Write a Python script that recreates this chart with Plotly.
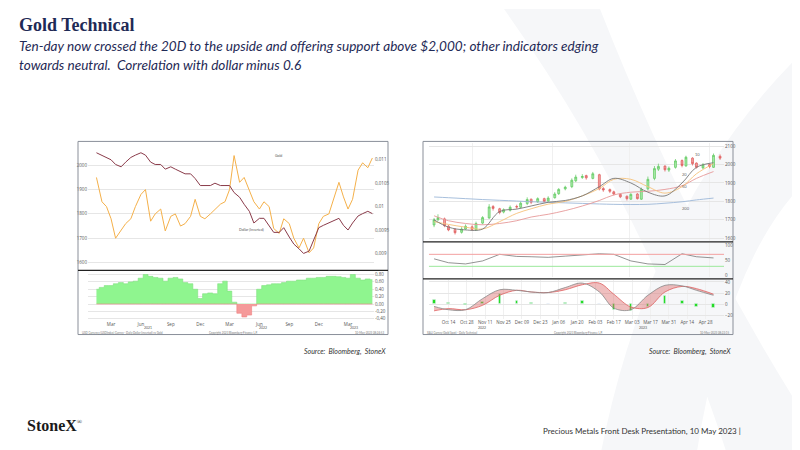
import pandas as pd
import plotly.graph_objects as go

# ---------------- left chart: gold vs dollar (inverted), correlation ----------------
gold_semi = [1950, 1850, 1830, 1780, 1700, 1735, 1760, 1780, 1830, 1880, 1900, 1770,
             1800, 1820, 1730, 1790, 1800, 1750, 1760, 1790, 1860, 1790, 1780, 1800,
             1820, 1840, 1850, 1900, 2040, 1930, 1950, 1900, 1850, 1820, 1850, 1830,
             1740, 1720, 1780, 1760, 1700, 1660, 1700, 1640, 1660, 1760, 1790, 1800,
             1860, 1930, 1870, 1820, 1860, 1980, 2010, 1990, 2030]
dollar_inv = [.01115, .01110, .01105, .01100, .01090, .01085, .01095, .01105, .01110, .01115,
              .01110, .01095, .01090, .01090, .01080, .01085, .01080, .01075, .01070, .01070,
              .01060, .01045, .01045, .01045, .01050, .01045, .01045, .01045, .01030, .01020,
              .01005, .00990, .00965, .00975, .00975, .00960, .00945, .00945, .00955, .00935,
              .00920, .00910, .00900, .00905, .00930, .00955, .00960, .00965, .00970, .00975,
              .00960, .00950, .00965, .00980, .00985, .00990, .00985]
corr = [0.40, 0.45, 0.50, 0.50, 0.55, 0.58, 0.55, 0.60, 0.62, 0.70, 0.80, 0.75,
        0.72, 0.70, 0.62, 0.70, 0.72, 0.68, 0.58, 0.55, 0.40, 0.15, 0.28, 0.30,
        0.28, 0.55, 0.62, 0.35, 0.05, -0.25, -0.35, -0.30, -0.05, 0.40, 0.50, 0.52,
        0.55, 0.55, 0.58, 0.62, 0.62, 0.65, 0.65, 0.70, 0.70, 0.72, 0.72, 0.75,
        0.75, 0.74, 0.72, 0.70, 0.80, 0.70, 0.65, 0.68, 0.66]
left_dates = pd.date_range("2021-01-04", periods=len(gold_semi), freq="SMS")
left_ticks = ["2021-03-01", "2021-06-01", "2021-09-01", "2021-12-01", "2022-03-01",
              "2022-06-01", "2022-09-01", "2022-12-01", "2023-03-01"]
left_ticktext = ["Mar", "Jun", "Sep", "Dec", "Mar", "Jun", "Sep", "Dec", "Mar"]

# ---------------- right chart: gold candles, MAs, RSI, MACD ----------------
c_close = [1700, 1712, 1668, 1645, 1630, 1650, 1665, 1648, 1680, 1712, 1770, 1762, 1740, 1755,
           1768, 1770, 1790, 1810, 1795, 1815, 1800, 1818, 1840, 1865, 1877, 1915, 1932, 1935,
           1928, 1950, 1868, 1862, 1855, 1840, 1825, 1815, 1838, 1815, 1865, 1920, 1978, 1990,
           1972, 1980, 2020, 1995, 2040, 2005, 1985, 1998, 1990, 2050, 2035]
c_open = [1672, 1700, 1705, 1665, 1648, 1632, 1650, 1662, 1645, 1682, 1710, 1772, 1760, 1742,
          1752, 1772, 1768, 1788, 1812, 1798, 1815, 1802, 1820, 1842, 1868, 1880, 1912, 1930,
          1940, 1925, 1945, 1870, 1864, 1852, 1838, 1828, 1812, 1840, 1812, 1868, 1925, 1975,
          1992, 1970, 1985, 2022, 1992, 2035, 2008, 1982, 2000, 1985, 2045]
c_high = [1710, 1730, 1712, 1672, 1655, 1660, 1675, 1670, 1690, 1720, 1785, 1780, 1765, 1762,
          1778, 1782, 1800, 1822, 1815, 1822, 1820, 1828, 1850, 1872, 1885, 1925, 1945, 1948,
          1945, 1960, 1950, 1878, 1870, 1858, 1842, 1832, 1845, 1845, 1875, 1935, 1992, 2005,
          1995, 1990, 2030, 2028, 2048, 2040, 2012, 2008, 2005, 2060, 2055]
c_low = [1660, 1695, 1660, 1638, 1620, 1625, 1645, 1640, 1640, 1675, 1705, 1750, 1730, 1735,
         1745, 1760, 1762, 1780, 1785, 1792, 1795, 1798, 1815, 1835, 1860, 1872, 1905, 1922,
         1918, 1920, 1860, 1852, 1845, 1832, 1818, 1805, 1808, 1810, 1808, 1860, 1915, 1965,
         1962, 1960, 1978, 1985, 1990, 1995, 1978, 1975, 1980, 1982, 2025]
n = min(len(c_close), len(c_open), len(c_high), len(c_low))
candle_dates = pd.bdate_range("2022-10-03", periods=n, freq="3B")

ma10 = [1700, 1660, 1645, 1650, 1745, 1758, 1775, 1795, 1805, 1830, 1880, 1925, 1900, 1850, 1830, 1900, 1985, 2010]
ma20 = [1690, 1675, 1660, 1650, 1690, 1735, 1760, 1785, 1800, 1830, 1870, 1920, 1920, 1880, 1845, 1880, 1950, 2005]
ma50 = [1722, 1695, 1680, 1673, 1680, 1695, 1715, 1730, 1750, 1775, 1805, 1835, 1850, 1855, 1865, 1885, 1925, 1962]
ma200 = [1824, 1820, 1815, 1810, 1806, 1802, 1798, 1795, 1792, 1789, 1786, 1784, 1783, 1784, 1790, 1798, 1808, 1818]
rsi = [55, 42, 38, 48, 70, 63, 62, 60, 64, 68, 72, 70, 48, 38, 36, 72, 62, 58]
macd = [-4, -10, -10, 10, 26, 25, 22, 21, 30, 38, 22, -7, -10, 16, 34, 33, 25, 16]
signal = [-12, -8, -10, -2, 16, 25, 22, 21, 26, 35, 38, 18, -5, -6, 22, 32, 28, 18]
macd_hist = [8, 2, -1, 4, 18, 6, 2, 1, 3, 6, 1, -10, -12, -4, 16, 6, -4, -6]
ind_dates = pd.bdate_range("2022-10-03", periods=len(rsi), freq="9B")

NAVY = "#1f2a56"
TICK = dict(size=4.5, color="#555")
GRID = "#e6e6e6"

fig = go.Figure()

# left main
fig.add_trace(go.Scatter(x=left_dates, y=gold_semi, mode="lines", line=dict(color="#f4b04a", width=1),
                         xaxis="x", yaxis="y"))
fig.add_trace(go.Scatter(x=left_dates, y=dollar_inv, mode="lines", line=dict(color="#8a3b4a", width=1),
                         xaxis="x", yaxis="y2"))
# left correlation
fig.add_trace(go.Scatter(x=left_dates, y=[max(v, 0) for v in corr], mode="lines", fill="tozeroy",
                         line=dict(color="#7fe07f", width=0.6, shape="hvh"), fillcolor="#8ff58f",
                         xaxis="x2", yaxis="y3"))
fig.add_trace(go.Scatter(x=left_dates, y=[min(v, 0) for v in corr], mode="lines", fill="tozeroy",
                         line=dict(color="#f08080", width=0.6, shape="hvh"), fillcolor="#f59a9a",
                         xaxis="x2", yaxis="y3"))

# right main
fig.add_trace(go.Candlestick(x=candle_dates, open=c_open[:n], high=c_high[:n], low=c_low[:n], close=c_close[:n],
                             increasing=dict(line=dict(color="#5cc85c", width=0.7), fillcolor="#a8e8a8"),
                             decreasing=dict(line=dict(color="#e05a5a", width=0.7), fillcolor="#f0a0a0"),
                             xaxis="x3", yaxis="y4"))
for vals, col in [(ma200, "#9db8d8"), (ma50, "#e79a9a"), (ma20, "#f6c27a"), (ma10, "#777777")]:
    fig.add_trace(go.Scatter(x=ind_dates, y=vals, mode="lines", line=dict(color=col, width=0.9, shape="spline"),
                             xaxis="x3", yaxis="y4"))
# RSI
fig.add_trace(go.Scatter(x=ind_dates, y=rsi, mode="lines", line=dict(color="#666", width=0.7),
                         xaxis="x4", yaxis="y5"))
# MACD
fig.add_trace(go.Bar(x=ind_dates, y=macd_hist, marker=dict(color="#22dd22"), width=2 * 86400000,
                     xaxis="x5", yaxis="y6"))
fig.add_trace(go.Scatter(x=ind_dates, y=signal, mode="lines", line=dict(color="#e06060", width=0.8, shape="spline"),
                         xaxis="x5", yaxis="y6"))
fig.add_trace(go.Scatter(x=ind_dates, y=macd, mode="lines", fill="tonexty", fillcolor="rgba(220,110,110,0.45)",
                         line=dict(color="#888", width=0.8, shape="spline"), xaxis="x5", yaxis="y6"))

LX = [0.1, 0.4575]
RX = [0.526, 0.895]
xcommon = dict(showgrid=False, tickfont=TICK, showline=False, ticks="")
left_range = ["2020-12-20", "2023-05-20"]
right_range = ["2022-09-29", "2023-05-12"]

fig.update_layout(
    width=800, height=450, margin=dict(l=0, r=0, t=0, b=0),
    paper_bgcolor="white", plot_bgcolor="white", showlegend=False,
    xaxis=dict(domain=LX, range=left_range, showticklabels=False, anchor="y", **xcommon),
    yaxis=dict(domain=[0.4178, 0.7], range=[1570, 2090], tickvals=[1600, 1700, 1800, 1900, 2000],
               tickfont=TICK, gridcolor=GRID, anchor="x", zeroline=False),
    yaxis2=dict(overlaying="y", side="right", range=[0.00865, 0.01135],
                tickvals=[0.009, 0.0095, 0.01, 0.0105, 0.011], ticktext=["0,009", "0,0095", "0,01", "0,0105", "0,011"],
                tickfont=TICK, showgrid=False, anchor="x", zeroline=False),
    xaxis2=dict(domain=LX, range=left_range, anchor="y3", tickvals=left_ticks, ticktext=left_ticktext, **xcommon),
    yaxis3=dict(domain=[0.3044, 0.4156], range=[-0.45, 0.9], side="right", anchor="x2",
                tickvals=[-0.4, -0.2, 0, 0.2, 0.4, 0.6, 0.8],
                ticktext=["-0,40", "-0,20", "0,00", "0,20", "0,40", "0,60", "0,80"],
                tickfont=TICK, gridcolor=GRID, zeroline=False),
    xaxis3=dict(domain=RX, range=right_range, anchor="y4", showticklabels=False, rangeslider=dict(visible=False),
                showgrid=True, gridcolor="#f0f0f0"),
    yaxis4=dict(domain=[0.4822, 0.7], range=[1585, 2115], side="right", anchor="x3",
                tickvals=[1600, 1700, 1800, 1900, 2000, 2100], tickfont=TICK, gridcolor=GRID, zeroline=False),
    xaxis4=dict(domain=RX, range=right_range, anchor="y5", showticklabels=False, showgrid=True, gridcolor="#f0f0f0"),
    yaxis5=dict(domain=[0.4022, 0.4778], range=[-5, 108], side="right", anchor="x4",
                tickvals=[0, 50, 100], tickfont=TICK, showgrid=False, zeroline=False),
    xaxis5=dict(domain=RX, range=right_range, anchor="y6",
                tickvals=pd.date_range("2022-10-14", "2023-04-28", freq="2W-FRI"),
                tickformat="%b %d", tickfont=TICK, showgrid=True, gridcolor="#f0f0f0", ticks=""),
    yaxis6=dict(domain=[0.3089, 0.3956], range=[-26, 44], side="right", anchor="x5",
                tickvals=[-20, 0, 20, 40], tickfont=TICK, gridcolor=GRID, zeroline=False),
    bargap=0,
)

shapes = []
# background X watermark
WM = "#f6f7f9"
shapes.append(dict(type="path", xref="paper", yref="paper", layer="below",
                   path="M 0.62 1 L 0.74 1 Q 0.85 0.5 1 0.08 L 1 0.0 L 0.9 0.0 Q 0.8 0.55 0.62 1 Z",
                   fillcolor=WM, line=dict(width=0)))
shapes.append(dict(type="path", xref="paper", yref="paper", layer="below",
                   path="M 0.98 0.88 Q 0.8 0.55 0.74 0.0 L 0.86 0.0 Q 0.9 0.45 1.0 0.62 Z",
                   fillcolor=WM, line=dict(width=0)))


def box(x0, x1, y0, y1, color="#8a8f99", w=1):
    shapes.append(dict(type="rect", xref="paper", yref="paper", x0=x0 / 800, x1=x1 / 800,
                       y0=1 - y1 / 450, y1=1 - y0 / 450, line=dict(color=color, width=w), fillcolor="rgba(0,0,0,0)"))


def hline(x0, x1, y, color="#222", w=1):
    shapes.append(dict(type="line", xref="paper", yref="paper", x0=x0 / 800, x1=x1 / 800,
                       y0=1 - y / 450, y1=1 - y / 450, line=dict(color=color, width=w)))


box(70, 380, 133, 327)
box(415, 725, 133, 327)
hline(70, 380, 262.5, w=1.2)
hline(415, 725, 234, w=1.2)
hline(415, 725, 271, w=1.2)
# RSI overbought / oversold
for lvl, col in [(70, "#f3a0a0"), (30, "#9be89b")]:
    shapes.append(dict(type="line", xref="x4", yref="y5", x0=right_range[0], x1=right_range[1],
                       y0=lvl, y1=lvl, line=dict(color=col, width=1)))

anns = []


def text(x, y, s, size, color=NAVY, family="Lato", xanchor="left", **kw):
    anns.append(dict(x=x / 800, y=1 - y / 450, xref="paper", yref="paper", text=s, showarrow=False,
                     xanchor=xanchor, yanchor="middle", font=dict(size=size, color=color, family=family), **kw))


text(9, 16, "<b>Gold Technical</b>", 18, family="Liberation Serif")
text(9, 37, "<i>Ten-day now crossed the 20D to the upside and offering support above $2,000; other indicators edging</i>",
     13.6)
text(9, 56, "<i>towards neutral.  Correlation with dollar minus 0.6</i>", 13.6)
text(380, 344, "<i>Source:  Bloomberg,  StoneX</i>", 7, color="#333", xanchor="right")
text(725, 344, "<i>Source:  Bloomberg,  StoneX</i>", 7, color="#333", xanchor="right")
text(17, 418, "<b>StoneX</b><sup><span style='font-size:7px'>®</span></sup>", 16, color="#1a1a1a",
     family="Liberation Serif")
text(735, 424, "Precious Metals Front Desk Presentation, 10 May 2023 |", 8, color="#333", xanchor="right")
text(229, 221, "Dollar (Inverted)", 3.5, color="#555")
text(265, 148, "Gold", 3.5, color="#555")
for s, xx, yy in [("10", 685, 146), ("20", 672, 166), ("50", 672, 178), ("200", 672, 200)]:
    text(xx, yy, s, 4, color="#666")
text(72, 325, "USD Currency (USDIndex) Curncy - Daily Dollar (inverted) vs Gold", 2.8, color="#777")
text(225, 325, "Copyright 2023 Bloomberg Finance L.P.", 2.8, color="#777", xanchor="center")
text(378, 325, "10-May-2023 08:24:53", 2.8, color="#777", xanchor="right")
text(417, 325, "XAU Curncy (Gold Spot) - Daily Technical", 2.8, color="#777")
text(570, 325, "Copyright 2023 Bloomberg Finance L.P.", 2.8, color="#777", xanchor="center")
text(723, 325, "10-May-2023 08:22:15", 2.8, color="#777", xanchor="right")
for s, xx in [("2021", 140), ("2022", 255), ("2023", 346)]:
    text(xx, 320, s, 3.5, color="#555", xanchor="center")
text(474, 320, "2022", 3.5, color="#555", xanchor="center")
text(635, 320, "2023", 3.5, color="#555", xanchor="center")

fig.update_layout(shapes=shapes, annotations=anns)
fig.write_html("out.html")
